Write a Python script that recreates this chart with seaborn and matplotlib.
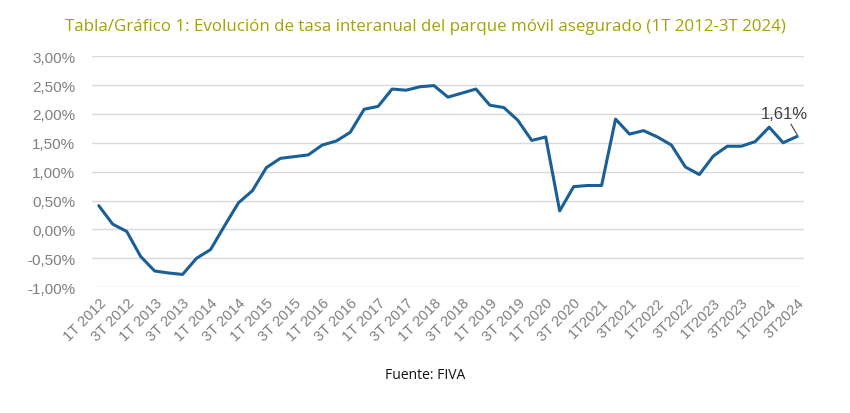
import matplotlib
matplotlib.use("Agg")
import matplotlib.pyplot as plt
import pandas as pd
import seaborn as sns

# Quarterly year-on-year growth of the insured vehicle fleet (%)
quarters = [f"{q}T {y}" for y in range(2012, 2025) for q in range(1, 5)][:51]
values = [
    0.41, 0.09, -0.035, -0.47, -0.72, -0.755, -0.78, -0.50, -0.35, 0.06,
    0.46, 0.67, 1.07, 1.23, 1.26, 1.29, 1.46, 1.53, 1.68, 2.08,
    2.13, 2.43, 2.41, 2.47, 2.49, 2.29, 2.36, 2.43, 2.15, 2.11,
    1.89, 1.54, 1.60, 0.32, 0.74, 0.76, 0.76, 1.91, 1.65, 1.71,
    1.60, 1.46, 1.08, 0.95, 1.27, 1.44, 1.44, 1.52, 1.77, 1.50,
    1.61,
]
tick_labels = [
    "1T 2012", "3T 2012", "1T 2013", "3T 2013", "1T 2014", "3T 2014",
    "1T 2015", "3T 2015", "1T 2016", "3T 2016", "1T 2017", "3T 2017",
    "1T 2018", "3T 2018", "1T 2019", "3T 2019", "1T 2020", "3T 2020",
    "1T2021", "3T2021", "1T2022", "3T2022", "1T2023", "3T2023",
    "1T2024", "3T2024",
]
y_ticks = [-1.0, -0.5, 0.0, 0.5, 1.0, 1.5, 2.0, 2.5, 3.0]

df = pd.DataFrame({"pos": range(len(values)), "quarter": quarters, "rate": values})

sns.set_style("white")
plt.rcParams["font.family"] = ["Liberation Sans", "DejaVu Sans"]

fig = plt.figure(figsize=(8.5, 4.14), dpi=100)
ax = fig.add_axes([0.108, 0.304, 0.838, 0.558])

sns.lineplot(data=df, x="pos", y="rate", ax=ax, color="#1a5f96", linewidth=2.2)

ax.set_xlim(-0.5, len(values) - 0.5)
ax.set_ylim(-1.0, 3.0)
ax.set_yticks(y_ticks)
ax.set_yticklabels([f"{v:.2f}%".replace(".", ",") for v in y_ticks],
                   color="#7f7f7f", fontsize=11)
ax.set_xticks(range(0, len(values), 2))
ax.set_xticklabels(tick_labels, rotation=45, ha="right", rotation_mode="anchor",
                   color="#7f7f7f", fontsize=10.5)
ax.tick_params(axis="both", length=0)
ax.tick_params(axis="x", pad=6)
ax.tick_params(axis="y", pad=12)
ax.set(xlabel="", ylabel="")
ax.grid(axis="y", color="#d9d9d9", linewidth=1)
ax.set_axisbelow(True)
sns.despine(left=True, bottom=True)

# last value label with leader line
last = len(values) - 1
ax.annotate("1,61%", xy=(last, values[last] + 0.03), xytext=(last - 0.9, values[last] + 0.27),
            ha="center", va="bottom", fontsize=12, color="#404040",
            arrowprops=dict(arrowstyle="-", color="#404040", linewidth=0.8,
                            shrinkA=0, shrinkB=0))

fig.text(0.5, 0.935, "Tabla/Gráfico 1: Evolución de tasa interanual del parque móvil asegurado (1T 2012-3T 2024)",
         ha="center", va="center", fontsize=12.2, color="#a3a400", family=["Open Sans", "DejaVu Sans"])
fig.text(0.5, 0.094, "Fuente: FIVA", ha="center", va="center", fontsize=10,
         color="#111111", family=["Open Sans", "DejaVu Sans"])

plt.savefig("out.png", dpi=100)
